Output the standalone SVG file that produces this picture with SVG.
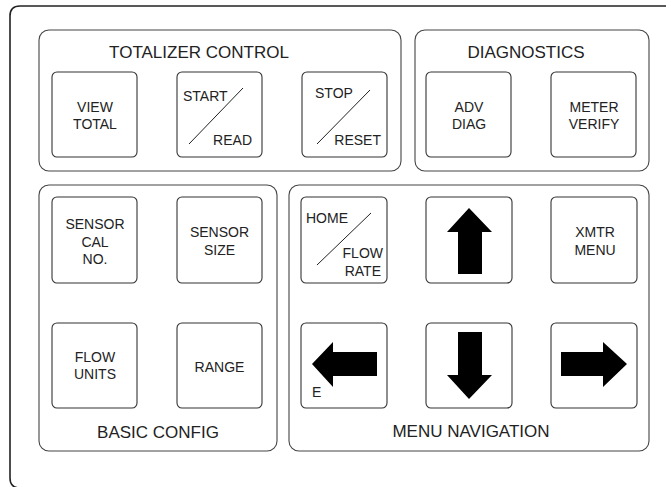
<svg xmlns="http://www.w3.org/2000/svg" width="671" height="487" viewBox="0 0 671 487">
<style>
.frame{fill:none;stroke:#222;stroke-width:1.6}
.grp{fill:#fff;stroke:#444;stroke-width:1.1}
.btn{fill:#fff;stroke:#333;stroke-width:1.1}
.t{font-family:"Liberation Sans",Arial,sans-serif;font-size:14px;fill:#222}
.c{text-anchor:middle}
.e{text-anchor:end}
.title{font-family:"Liberation Sans",Arial,sans-serif;font-size:17px;fill:#222;text-anchor:middle}
.slash{stroke:#222;stroke-width:1}
.arrow{fill:#000}
</style>
<rect width="671" height="487" fill="#fff"/>
<path class="frame" d="M666 6 H20 Q10 6 10 16 V478 Q10 488 20 488"/>

<g id="totalizer-control">
<rect class="grp" x="39" y="30" width="362" height="141" rx="10"/>
<text class="title" x="199" y="58">TOTALIZER CONTROL</text>
</g>
<g id="diagnostics">
<rect class="grp" x="415" y="30" width="234" height="141" rx="10"/>
<text class="title" x="526" y="58">DIAGNOSTICS</text>
</g>
<g id="basic-config">
<rect class="grp" x="39" y="185" width="238" height="266" rx="10"/>
<text class="title" x="158" y="438">BASIC CONFIG</text>
</g>
<g id="menu-navigation">
<rect class="grp" x="289" y="185" width="360" height="266" rx="10"/>
<text class="title" x="471" y="437">MENU NAVIGATION</text>
</g>

<g id="view-total">
<rect class="btn" x="52" y="72" width="85" height="85" rx="5"/>
<text class="t c" x="95" y="112">VIEW</text>
<text class="t c" x="95" y="129">TOTAL</text>
</g>
<g id="start-read">
<rect class="btn" x="177" y="72" width="85" height="85" rx="5"/>
<text class="t" x="183" y="101">START</text>
<line class="slash" x1="189" y1="144" x2="243" y2="88"/>
<text class="t e" x="252" y="145">READ</text>
</g>
<g id="stop-reset">
<rect class="btn" x="302" y="72" width="85" height="85" rx="5"/>
<text class="t" x="315" y="98">STOP</text>
<line class="slash" x1="317" y1="144" x2="370" y2="90"/>
<text class="t e" x="381" y="145">RESET</text>
</g>
<g id="adv-diag">
<rect class="btn" x="426" y="72" width="85" height="85" rx="5"/>
<text class="t c" x="469" y="112">ADV</text>
<text class="t c" x="469" y="129">DIAG</text>
</g>
<g id="meter-verify">
<rect class="btn" x="551" y="72" width="85" height="85" rx="5"/>
<text class="t c" x="594" y="112">METER</text>
<text class="t c" x="594" y="129">VERIFY</text>
</g>

<g id="sensor-cal-no">
<rect class="btn" x="52" y="197" width="85" height="86" rx="5"/>
<text class="t c" x="95" y="229">SENSOR</text>
<text class="t c" x="95" y="247">CAL</text>
<text class="t c" x="95" y="264">NO.</text>
</g>
<g id="sensor-size">
<rect class="btn" x="177" y="197" width="85" height="86" rx="5"/>
<text class="t c" x="219.5" y="237">SENSOR</text>
<text class="t c" x="219.5" y="255">SIZE</text>
</g>
<g id="flow-units">
<rect class="btn" x="52" y="323" width="85" height="85" rx="5"/>
<text class="t c" x="95" y="362">FLOW</text>
<text class="t c" x="95" y="379">UNITS</text>
</g>
<g id="range">
<rect class="btn" x="177" y="323" width="85" height="85" rx="5"/>
<text class="t c" x="219.5" y="372">RANGE</text>
</g>

<g id="home-flow-rate">
<rect class="btn" x="301" y="197" width="86" height="86" rx="5"/>
<text class="t" x="306" y="223">HOME</text>
<line class="slash" x1="317" y1="265" x2="371" y2="213"/>
<text class="t e" x="383" y="258">FLOW</text>
<text class="t e" x="381" y="276">RATE</text>
</g>
<g id="up">
<rect class="btn" x="426" y="197" width="86" height="86" rx="5"/>
<polygon class="arrow" points="469,208 492,232 482,232 482,274 458,274 458,232 447,232"/>
</g>
<g id="xmtr-menu">
<rect class="btn" x="551" y="197" width="86" height="86" rx="5"/>
<text class="t c" x="595" y="237">XMTR</text>
<text class="t c" x="595" y="255">MENU</text>
</g>
<g id="left-e">
<rect class="btn" x="301" y="323" width="86" height="85" rx="5"/>
<polygon class="arrow" points="312,364 333,342 333,352 377,352 377,376 333,376 333,387"/>
<text class="t" x="312" y="397">E</text>
</g>
<g id="down">
<rect class="btn" x="426" y="323" width="86" height="85" rx="5"/>
<polygon class="arrow" points="458,332 482,332 482,375 492,375 469,399 447,375 458,375"/>
</g>
<g id="right">
<rect class="btn" x="551" y="323" width="86" height="85" rx="5"/>
<polygon class="arrow" points="561,352 603,352 603,342 627,364 603,387 603,376 561,376"/>
</g>
<g id="connectors"/>
</svg>
